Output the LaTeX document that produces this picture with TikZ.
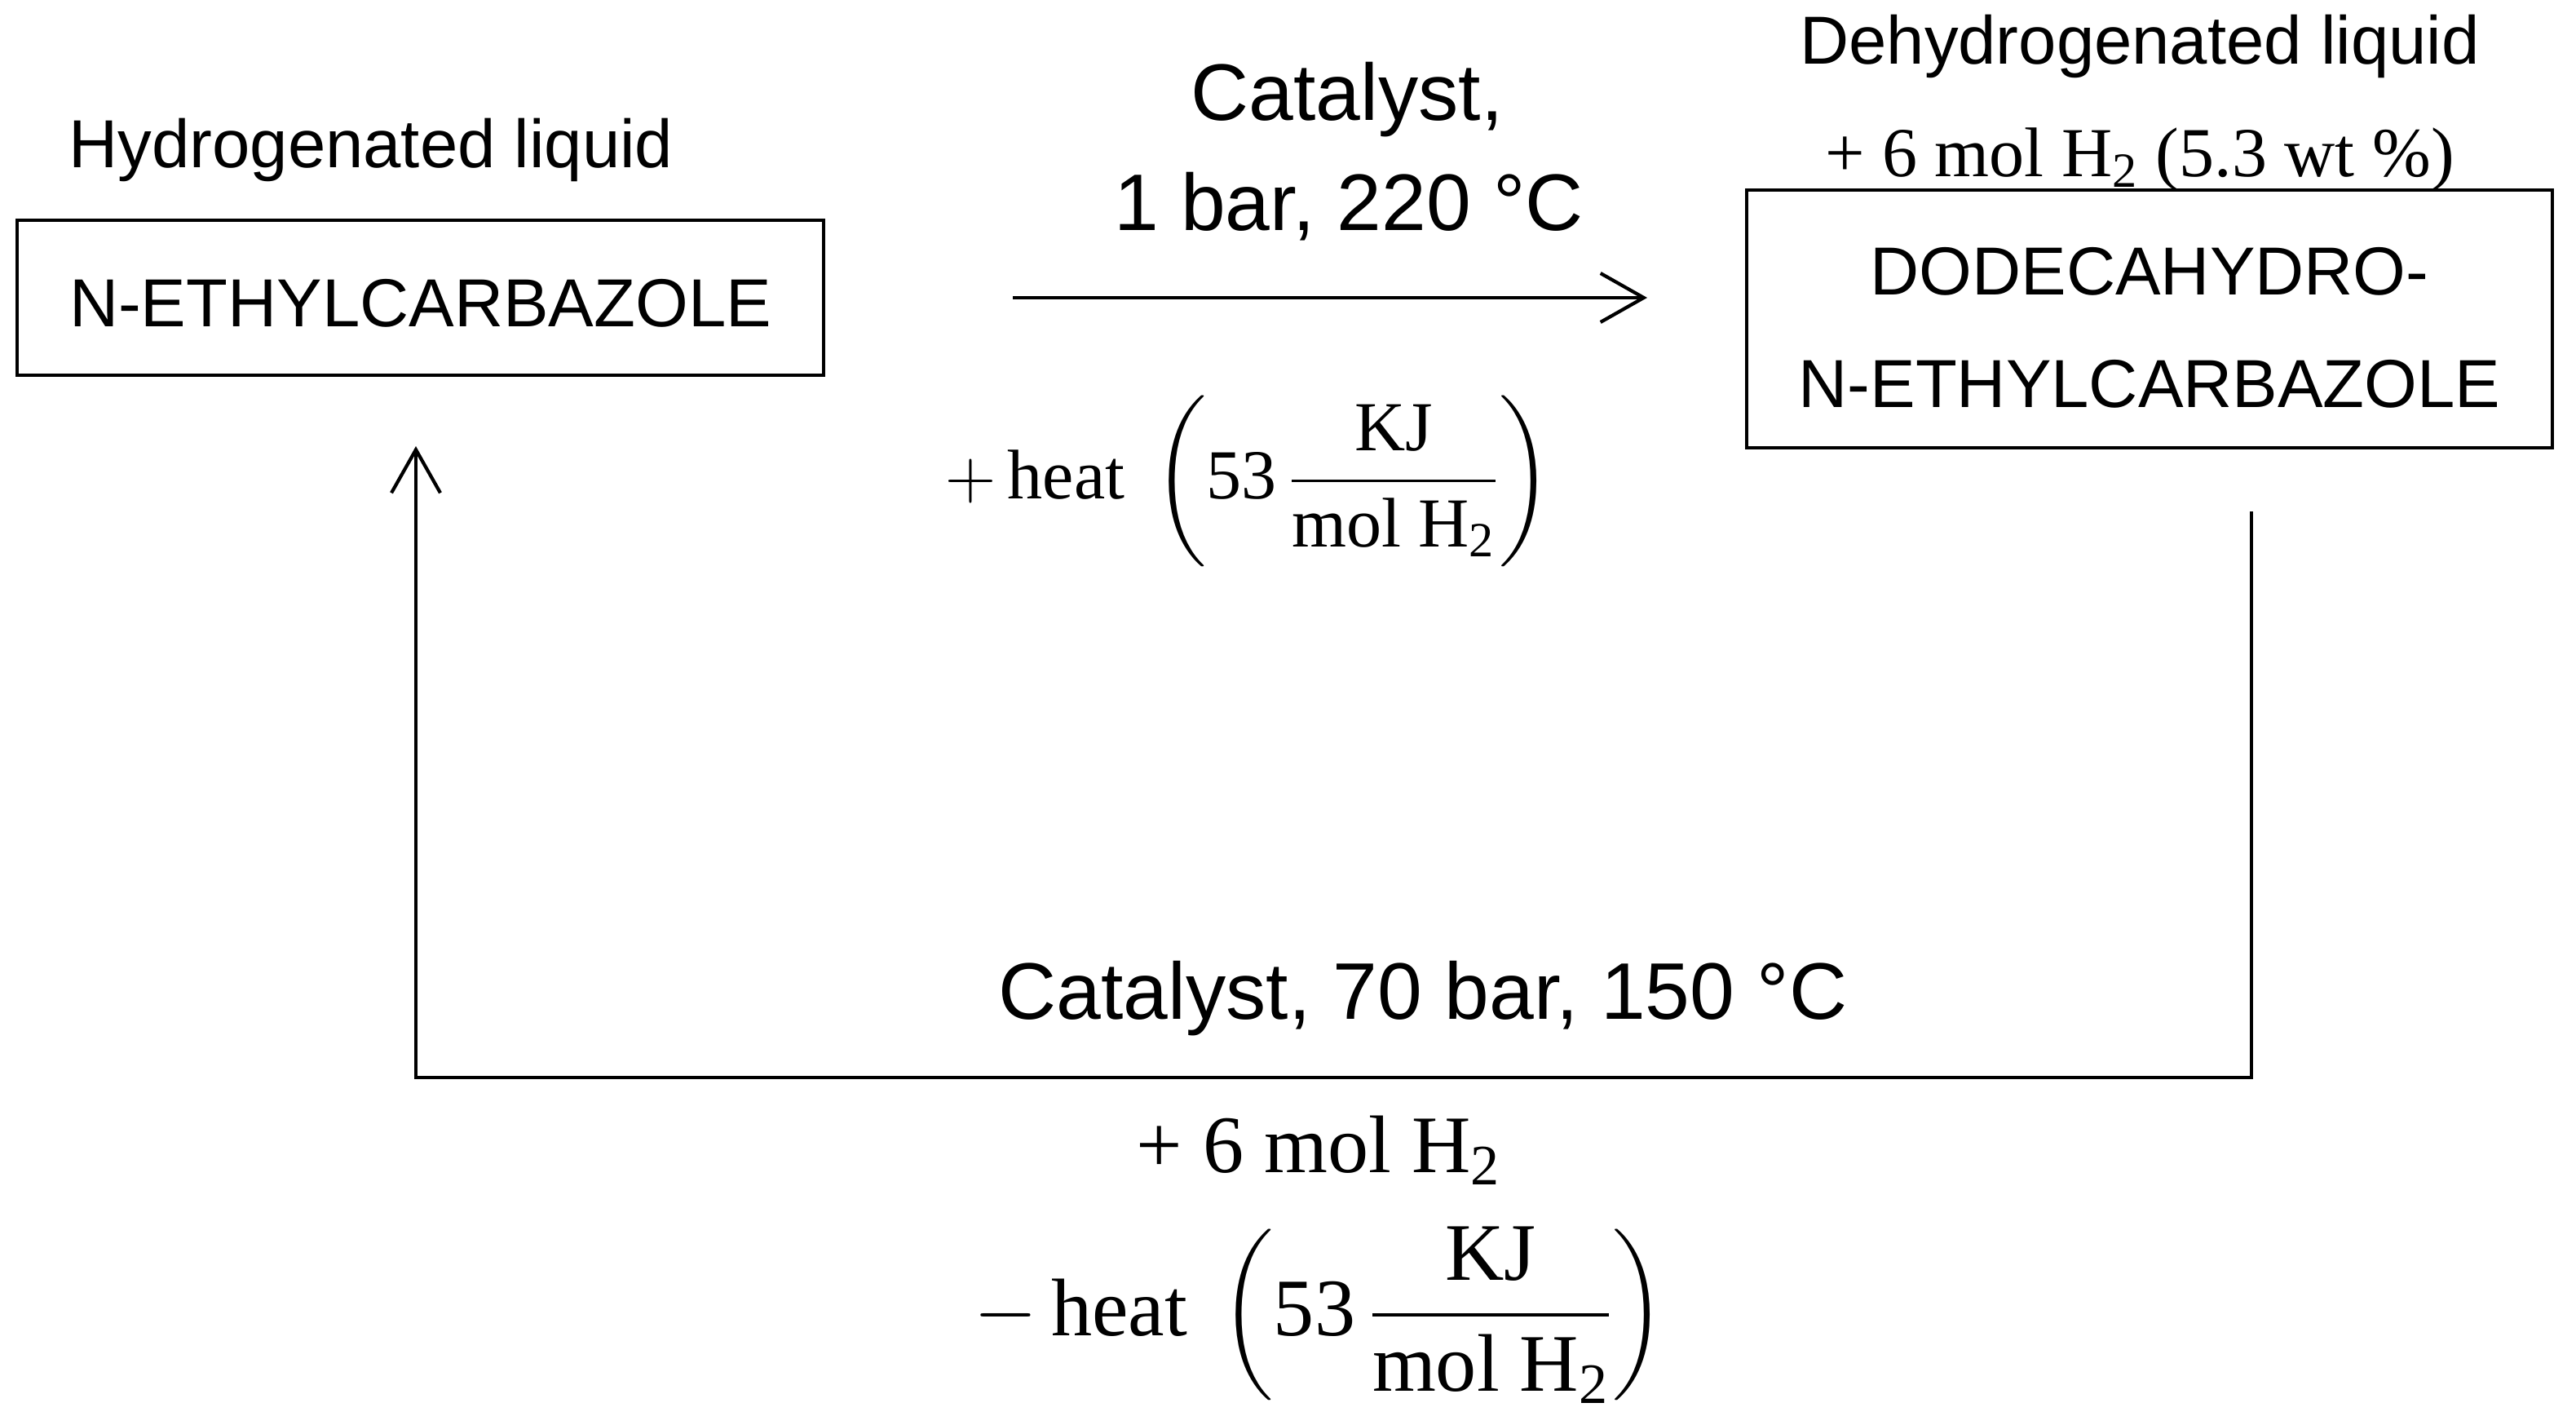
\RequirePackage{fix-cm}
\documentclass[tikz,border=0pt]{standalone}
\usepackage{amsmath}
\usepackage{fontspec}
\setmainfont{Liberation Sans}
\newfontfamily\eqfont{Liberation Serif}
\usetikzlibrary{arrows.meta}
\tikzset{
  box/.style={draw,inner sep=0pt},
  namelbl/.style={font=\fontsize{23.7}{39.3}\selectfont,align=center},
  condlbl/.style={font=\fontsize{28}{32}\selectfont},
  eqsmall/.style={font=\eqfont\fontsize{24.5}{28}\selectfont},
  eqbig/.style={font=\eqfont\fontsize{28.5}{32}\selectfont}
}
\begin{document}
\begin{tikzpicture}[line width=1.2pt,>={Straight Barb[length=5.3mm,width=6mm]}]
    \useasboundingbox (0,0) rectangle (31.59,-17.47);
    \node[box,minimum width=9.89cm,minimum height=1.90cm](hyd) at (5.155,-3.65) {};
    \node[box,minimum width=9.88cm,minimum height=3.16cm](dehyd) at (26.36,-3.91) {};
    \node[namelbl](hydtxt) at ([yshift=-0.07cm]hyd.center) {N-ETHYLCARBAZOLE};
    \node[namelbl](dehydtxt) at ([yshift=-0.11cm]dehyd.center) {DODECAHYDRO-\\N-ETHYLCARBAZOLE};
    \node[namelbl,anchor=base](hydlbl) at (4.55,-2.06) {Hydrogenated liquid};
    \node[namelbl,anchor=base](dehydlbl) at (26.24,-0.79) {Dehydrogenated liquid};
    \node[eqsmall,anchor=base](gasout) at (26.24,-2.17) {+ 6 mol H$_{\text{2}}$ (5.3 wt \%)};
    % dehydrogenation
    \coordinate(F0) at (12.42,-3.65);
    \coordinate(F1) at (20.20,-3.65);
    \draw[->](F0)--(F1);
    \node[condlbl,anchor=base](fwdcat) at (16.52,-1.48) {Catalyst,};
    \node[condlbl,anchor=base](fwdcond) at (16.54,-2.83) {1 bar, 220 °C};
    \node[eqsmall,anchor=base](fwdheat) at (15.31,-6.11)
      {$+\,\text{heat}\ \left(\text{53}\,\dfrac{\text{KJ}}{\text{mol}\ \text{H}_{\text{2}}}\right)$};
    % hydrogenation
    \coordinate(R0) at (27.61,-6.27);
    \coordinate(R1) at (5.10,-5.47);
    \draw[->](R0)--++(0,-6.94)-|(R1);
    \node[condlbl,anchor=base](revcond) at (17.45,-12.49) {Catalyst, 70 bar, 150 °C};
    \node[eqbig,anchor=base](gasin) at (16.17,-14.37) {+ 6 mol H$_{\text{2}}$};
    \node[eqbig,anchor=base](revheat) at (16.18,-16.37)
      {$-\,\text{heat}\ \left(\text{53}\,\dfrac{\text{KJ}}{\text{mol}\ \text{H}_{\text{2}}}\right)$};
  \end{tikzpicture}
\end{document}
